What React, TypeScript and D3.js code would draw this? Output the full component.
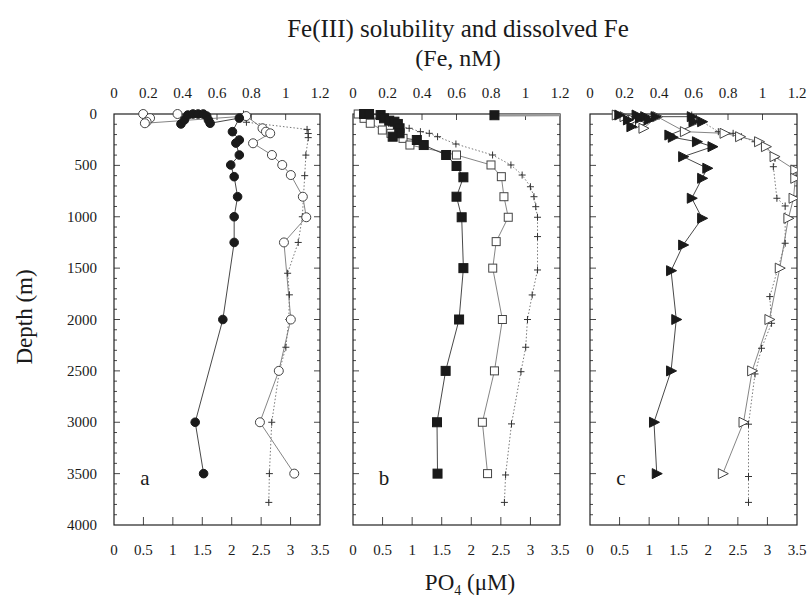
import React from "react";
import * as d3 from "d3";

// ---------- data: [depth (m), value] ----------
// Panel a
const solA: [number, number][] = [
  [97, 0.39], [58, 0.41], [10, 0.43], [0, 0.46], [0, 0.49], [0, 0.52], [20, 0.54], [58, 0.55], [90, 0.56],
  [40, 0.73], [172, 0.69], [253, 0.73], [283, 0.71], [399, 0.73], [496, 0.68], [610, 0.7], [805, 0.72],
  [1000, 0.7], [1250, 0.7], [2000, 0.634], [3000, 0.473], [3500, 0.522],
];
const dfeA: [number, number][] = [
  [0, 0.37], [0, 0.17], [40, 0.21], [75, 0.19], [90, 0.18], [20, 0.77], [139, 0.865], [172, 0.885],
  [188, 0.91], [285, 0.81], [399, 0.92], [496, 0.98], [594, 1.03], [805, 1.1], [1005, 1.12], [1250, 0.99],
  [2000, 1.03], [2500, 0.96], [3000, 0.85], [3500, 1.05],
];
const poA: [number, number][] = [
  [0, 2.2], [30, 2.22], [80, 2.25], [150, 3.28], [190, 3.3], [230, 3.3], [400, 3.26], [600, 3.24],
  [800, 3.22], [1000, 3.2], [1250, 3.13], [1550, 2.95], [1760, 2.98], [2000, 2.97], [2270, 2.92],
  [2500, 2.81], [3000, 2.68], [3500, 2.64], [3780, 2.63],
];
// Panel b
const solB: [number, number][] = [
  [0, 0.064], [0, 0.093], [10, 0.16], [42, 0.18], [65, 0.21], [75, 0.24], [97, 0.26], [139, 0.27],
  [188, 0.27], [221, 0.23], [253, 0.37], [302, 0.41], [399, 0.54], [506, 0.6], [616, 0.64], [805, 0.6],
  [1005, 0.63], [1500, 0.64], [2000, 0.615], [2500, 0.537], [3000, 0.487], [3500, 0.49],
];
const solBSurface: [number, number][] = [[12, 0.82], [8, 1.3]];
const dfeB: [number, number][] = [
  [0, 0.03], [42, 0.064], [90, 0.1], [156, 0.17], [188, 0.22], [237, 0.29], [302, 0.33], [399, 0.6],
  [496, 0.8], [610, 0.86], [805, 0.875], [1005, 0.9], [1242, 0.83], [1500, 0.81], [2000, 0.866],
  [2500, 0.82], [3000, 0.75], [3500, 0.78],
];
const poB: [number, number][] = [
  [0, 0.15], [40, 0.35], [90, 0.6], [139, 0.95], [172, 1.14], [188, 1.29], [221, 1.43], [292, 1.74],
  [399, 2.36], [496, 2.67], [594, 2.86], [708, 3.0], [805, 3.06], [902, 3.09], [1005, 3.12], [1193, 3.12],
  [1518, 3.12], [1761, 3.03], [2000, 2.95], [2270, 2.92], [2508, 2.84], [3016, 2.68], [3513, 2.58], [3780, 2.56],
];
// Panel c
const solC: [number, number][] = [
  [10, 0.17], [58, 0.22], [124, 0.24], [10, 0.27], [42, 0.29], [26, 0.32], [58, 0.34], [26, 0.38],
  [26, 0.59], [75, 0.6], [75, 0.65], [205, 0.46], [227, 0.48], [270, 0.62], [318, 0.71], [415, 0.54],
  [528, 0.68], [626, 0.65], [820, 0.59], [1015, 0.65], [1275, 0.54], [1525, 0.47], [2000, 0.5],
  [2500, 0.47], [3000, 0.371], [3500, 0.387],
];
const dfeC: [number, number][] = [
  [10, 0.155], [26, 0.2], [58, 0.25], [90, 0.29], [139, 0.31], [26, 0.39], [172, 0.55], [188, 0.78],
  [221, 0.87], [270, 0.98], [318, 1.02], [415, 1.07], [545, 1.19], [626, 1.19], [820, 1.18], [1015, 1.15],
  [1500, 1.1], [2000, 1.04], [2500, 0.94], [3000, 0.89], [3500, 0.77],
];
const poC: [number, number][] = [
  [10, 1.72], [40, 1.8], [172, 2.17], [188, 2.42], [221, 2.56], [270, 2.79], [318, 2.95], [430, 3.13],
  [513, 3.1], [820, 3.16], [895, 3.3], [1258, 3.3], [1777, 3.04], [2037, 3.07], [2280, 2.9], [2530, 2.79],
  [3019, 2.68], [3528, 2.68], [3780, 2.68],
];

const feTicks = [0, 0.2, 0.4, 0.6, 0.8, 1, 1.2];
const poTicks = [0, 0.5, 1, 1.5, 2, 2.5, 3, 3.5];
const depthTicks = [0, 500, 1000, 1500, 2000, 2500, 3000, 3500, 4000];
const panelLetters = ["a", "b", "c"];

const FONT = "'Liberation Serif', 'Times New Roman', Times, serif";
const INK = "#1a1a1a";

type Shape = "circle" | "square" | "tri";

const panels = [
  { x0: 114, x1: 320, sol: solA, dfe: dfeA, po: poA, shape: "circle" as Shape, extra: null as null | [number, number][] },
  { x0: 353, x1: 560, sol: solB, dfe: dfeB, po: poB, shape: "square" as Shape, extra: solBSurface },
  { x0: 590, x1: 797, sol: solC, dfe: dfeC, po: poC, shape: "tri" as Shape, extra: null },
];

const Y0 = 114;
const Y1 = 525;

function Marker({ shape, filled, x, y }: { shape: Shape; filled: boolean; x: number; y: number }) {
  const fill = filled ? INK : "#fff";
  const stroke = filled ? INK : "#444";
  if (shape === "circle") return <circle cx={x} cy={y} r={filled ? 4.3 : 4.5} fill={fill} stroke={stroke} strokeWidth={1} />;
  if (shape === "square") {
    const s = filled ? 9 : 8;
    return <rect x={x - s / 2} y={y - s / 2} width={s} height={s} fill={fill} stroke={stroke} strokeWidth={1} />;
  }
  return <path d={`M${x - 4.5},${y - 5} L${x + 5.5},${y} L${x - 4.5},${y + 5} Z`} fill={fill} stroke={stroke} strokeWidth={1} />;
}

function Plus({ x, y }: { x: number; y: number }) {
  return (
    <g stroke="#333" strokeWidth={1}>
      <line x1={x - 3.5} x2={x + 3.5} y1={y} y2={y} />
      <line x1={x} x2={x} y1={y - 3.5} y2={y + 3.5} />
    </g>
  );
}

function Panel({ p, i }: { p: (typeof panels)[number]; i: number }) {
  const yS = d3.scaleLinear().domain([0, 4000]).range([Y0, Y1]);
  const feS = d3.scaleLinear().domain([0, 1.2]).range([p.x0, p.x1]);
  const poS = d3.scaleLinear().domain([0, 3.5]).range([p.x0, p.x1]);
  const feLine = d3.line<[number, number]>().x((d) => feS(d[1])).y((d) => yS(d[0]));
  const poLine = d3.line<[number, number]>().x((d) => poS(d[1])).y((d) => yS(d[0]));
  const minor = d3.range(100, 4000, 100);
  const clipId = `clip${i}`;
  return (
    <g>
      <defs>
        <clipPath id={clipId}>
          <rect x={p.x0} y={Y0 - 6} width={p.x1 - p.x0} height={Y1 - Y0 + 12} />
        </clipPath>
      </defs>
      <g stroke="#333" strokeWidth={0.9}>
        {minor.map((d) => {
          const len = d % 500 === 0 ? 6 : 3;
          return (
            <g key={d}>
              <line x1={p.x0} x2={p.x0 + len} y1={yS(d)} y2={yS(d)} />
              <line x1={p.x1} x2={p.x1 - len} y1={yS(d)} y2={yS(d)} />
            </g>
          );
        })}
        {poTicks.slice(1, -1).map((t) => (
          <line key={t} x1={poS(t)} x2={poS(t)} y1={Y1} y2={Y1 - 8} />
        ))}
        {feTicks.slice(1, -1).map((t) => (
          <line key={t} x1={feS(t)} x2={feS(t)} y1={Y0} y2={Y0 + 6} />
        ))}
      </g>
      <rect x={p.x0} y={Y0} width={p.x1 - p.x0} height={Y1 - Y0} fill="none" stroke="#222" strokeWidth={1.2} />
      <g fontFamily={FONT} fontSize={15} fill={INK} textAnchor="middle">
        {feTicks.map((t) => (
          <text key={t} x={feS(t)} y={98}>{String(t)}</text>
        ))}
        {poTicks.map((t) => (
          <text key={t} x={poS(t)} y={555}>{String(t)}</text>
        ))}
      </g>
      <g clipPath={`url(#${clipId})`}>
        <path d={poLine(p.po) || ""} fill="none" stroke="#777" strokeWidth={1} strokeDasharray="1.5,2" />
        <path d={feLine(p.dfe) || ""} fill="none" stroke="#777" strokeWidth={0.9} />
        <path d={feLine(p.sol) || ""} fill="none" stroke="#333" strokeWidth={0.9} />
        {p.extra && <path d={feLine(p.extra) || ""} fill="none" stroke="#999" strokeWidth={2.5} />}
        {p.po.map((d, k) => (
          <Plus key={k} x={poS(d[1])} y={yS(d[0])} />
        ))}
        {p.dfe.map((d, k) => (
          <Marker key={k} shape={p.shape} filled={false} x={feS(d[1])} y={yS(d[0])} />
        ))}
        {p.sol.map((d, k) => (
          <Marker key={k} shape={p.shape} filled={true} x={feS(d[1])} y={yS(d[0])} />
        ))}
        {p.extra && p.extra.filter((d) => d[1] <= 1.2).map((d, k) => (
          <Marker key={k} shape={p.shape} filled={true} x={feS(d[1])} y={yS(d[0])} />
        ))}
      </g>
      <text x={p.x0 + 31} y={485} fontFamily={FONT} fontSize={21} fill={INK} textAnchor="middle">
        {panelLetters[i]}
      </text>
    </g>
  );
}

export default function App() {
  const yS = d3.scaleLinear().domain([0, 4000]).range([Y0, Y1]);
  return (
    <svg width={808} height={602} style={{ position: "absolute", left: 0, top: 0, background: "#fff" }}>
      <rect width={808} height={602} fill="#fff" />
      <g fontFamily={FONT} fill={INK} textAnchor="middle">
        <text x={458} y={37} fontSize={25}>Fe(III) solubility and dissolved Fe</text>
        <text x={458} y={66} fontSize={24}>(Fe, nM)</text>
        <text x={470} y={590} fontSize={23}>
          PO<tspan fontSize={14} dy={5}>4</tspan>
          <tspan dy={-5}> (μM)</tspan>
        </text>
        <text transform="translate(32,317) rotate(-90)" fontSize={23}>Depth (m)</text>
      </g>
      <g fontFamily={FONT} fontSize={15} fill={INK} textAnchor="end">
        {depthTicks.map((d) => (
          <text key={d} x={97} y={yS(d) + 5}>{String(d)}</text>
        ))}
      </g>
      {panels.map((p, i) => (
        <Panel key={i} p={p} i={i} />
      ))}
    </svg>
  );
}
